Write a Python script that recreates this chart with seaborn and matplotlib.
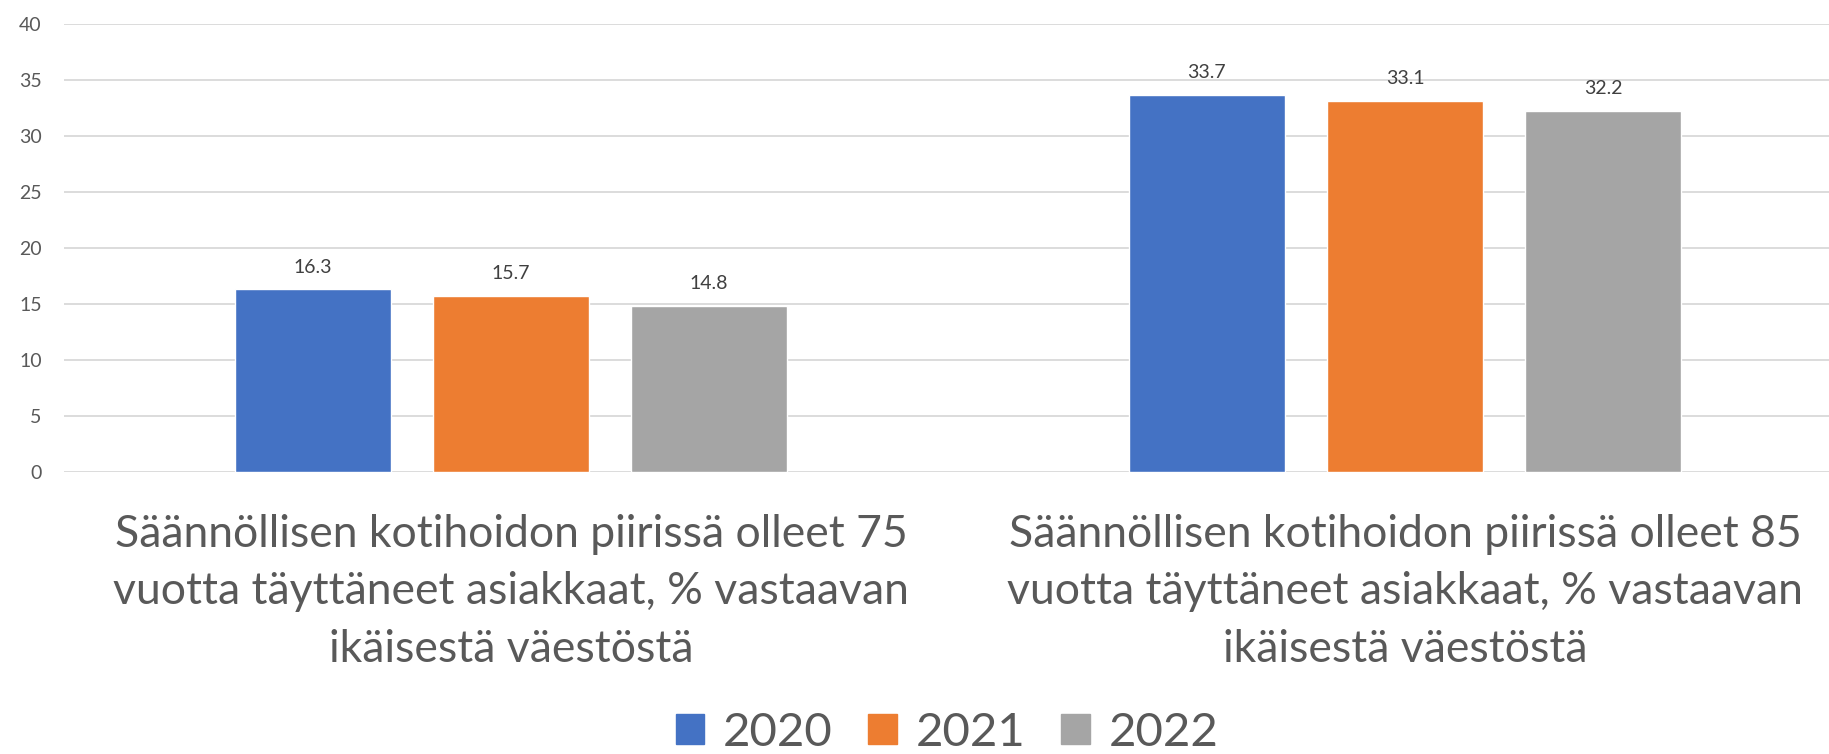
import numpy as np
import pandas as pd
import seaborn as sns
import matplotlib.pyplot as plt

categories = [
    'Säännöllisen kotihoidon piirissä olleet 75\nvuotta täyttäneet asiakkaat, % vastaavan\nikäisestä väestöstä',
    'Säännöllisen kotihoidon piirissä olleet 85\nvuotta täyttäneet asiakkaat, % vastaavan\nikäisestä väestöstä',
]
years = ['2020', '2021', '2022']
values_2020 = [16.3, 33.7]
values_2021 = [15.7, 33.1]
values_2022 = [14.8, 32.2]
colors = ['#4472C4', '#ED7D31', '#A5A5A5']

df = pd.DataFrame({
    'category': categories * 3,
    'year': [y for y in years for _ in categories],
    'value': values_2020 + values_2021 + values_2022,
})

sns.set_style('white')
plt.rcParams['font.family'] = ['Lato', 'DejaVu Sans']

fig = plt.figure(figsize=(18.29, 7.54), dpi=100)
ax = fig.add_axes([64 / 1829, 1 - 472 / 754, (1852 - 64) / 1829, (472 - 24) / 754])

sns.barplot(data=df, x='category', y='value', hue='year', order=categories,
            hue_order=years, palette=dict(zip(years, colors)),
            width=0.665, gap=0.212, saturation=1, ax=ax, legend=True)

ax.set_ylim(0, 40)
ax.set_yticks(np.arange(0, 41, 5))
ax.set_xlim(-0.5, 1.5)
ax.yaxis.grid(True, color='#D9D9D9', linewidth=1.3)
ax.set_axisbelow(True)
for s in ax.spines.values():
    s.set_visible(False)
ax.set_xlabel('')
ax.set_ylabel('')
ax.tick_params(axis='y', length=0, pad=16, labelsize=14, labelcolor='#595959')
ax.tick_params(axis='x', length=0, pad=30, labelsize=32, labelcolor='#595959')
for lbl in ax.get_xticklabels():
    lbl.set_linespacing(1.5)

# value labels above bars
for cont in ax.containers:
    ax.bar_label(cont, fmt='%.1f', padding=10, fontsize=14, color='#404040')

ax.legend_.remove()
handles = [plt.Rectangle((0, 0), 1, 1, color=c) for c in colors]
fig.legend(handles, years, loc='center', bbox_to_anchor=(947 / 1829, 1 - 733 / 754),
           ncol=3, frameon=False, fontsize=34, labelcolor='#595959',
           handlelength=0.6, handleheight=0.6, handletextpad=0.4, columnspacing=0.76)

fig.savefig('out.png', dpi=100)
